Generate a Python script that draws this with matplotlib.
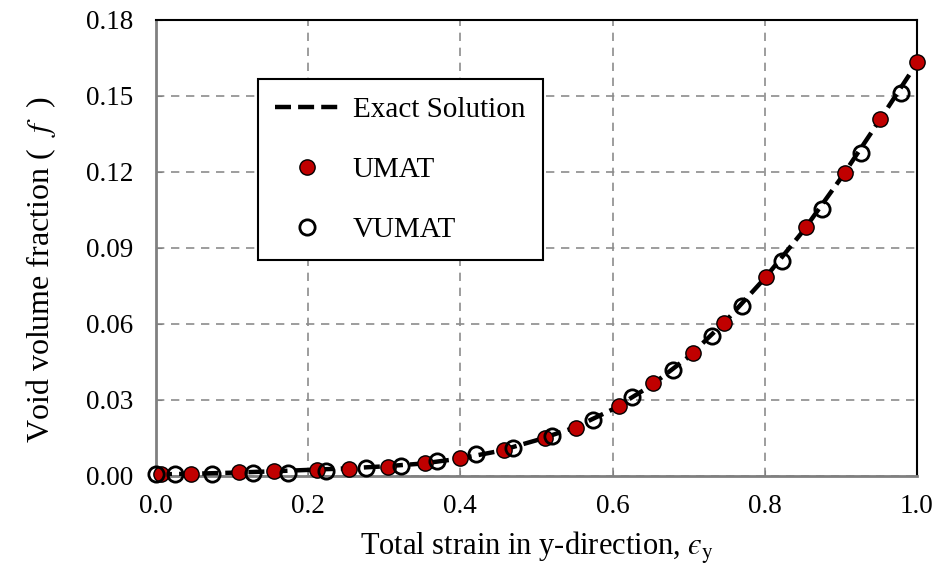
import matplotlib
matplotlib.use("Agg")
import matplotlib.pyplot as plt

plt.rcParams['font.family'] = ['Liberation Serif', 'DejaVu Serif']
plt.rcParams['mathtext.fontset'] = 'stix'

# exact solution curve
exact_x = [0.0, 0.05, 0.1, 0.15, 0.2, 0.25, 0.3, 0.35, 0.4, 0.45, 0.5,
           0.55, 0.6, 0.65, 0.7, 0.75, 0.8, 0.85, 0.9, 0.95, 1.0]
exact_y = [0.0005, 0.0008, 0.0012, 0.0017, 0.0023, 0.0029, 0.0037, 0.0048, 0.0068, 0.0097, 0.0140,
           0.0190, 0.0262, 0.0355, 0.0470, 0.0615, 0.0780, 0.0965, 0.1175, 0.1400, 0.1630]

# UMAT results
umat_x = [0.007, 0.046, 0.109, 0.155, 0.211, 0.253, 0.305, 0.354, 0.400, 0.457, 0.511,
          0.552, 0.608, 0.653, 0.706, 0.747, 0.802, 0.854, 0.905, 0.952, 1.0]
umat_y = [0.0007, 0.0008, 0.0013, 0.0017, 0.0023, 0.0026, 0.0033, 0.0049, 0.0069, 0.0101, 0.0148,
          0.0190, 0.0275, 0.0365, 0.0486, 0.0604, 0.0786, 0.0983, 0.1194, 0.1408, 0.1633]

# VUMAT results
vumat_x = [0.0, 0.025, 0.073, 0.127, 0.173, 0.223, 0.276, 0.322, 0.369, 0.420, 0.469,
           0.520, 0.574, 0.626, 0.679, 0.730, 0.770, 0.823, 0.875, 0.927, 0.979]
vumat_y = [0.0006, 0.0006, 0.0006, 0.0010, 0.0012, 0.0020, 0.0029, 0.0038, 0.0058, 0.0086, 0.0108,
           0.0157, 0.0220, 0.0310, 0.0417, 0.0552, 0.0670, 0.0849, 0.1052, 0.1273, 0.1510]

fig = plt.figure(figsize=(9.43, 5.81), dpi=100)
ax = fig.add_axes([0.1654, 0.1812, 0.8070, 0.7844])

ax.plot(exact_x, exact_y, color='black', lw=3.2, dashes=(3.6, 1.6), label='Exact Solution', zorder=3)
ax.plot(umat_x, umat_y, ls='none', marker='o', ms=11, mfc='#C00000', mec='black', mew=1.0,
        label='UMAT', zorder=4, clip_on=False)
ax.plot(vumat_x, vumat_y, ls='none', marker='o', ms=11, mfc='none', mec='black', mew=2.0,
        label='VUMAT', zorder=5, clip_on=False)

ax.set_xlim(0, 1.0)
ax.set_ylim(0, 0.18)
ax.set_xticks([0.0, 0.2, 0.4, 0.6, 0.8, 1.0])
ax.set_yticks([0.0, 0.03, 0.06, 0.09, 0.12, 0.15, 0.18])
ax.set_xticklabels(['0.0', '0.2', '0.4', '0.6', '0.8', '1.0'])
ax.set_yticklabels(['0.00', '0.03', '0.06', '0.09', '0.12', '0.15', '0.18'])
ax.tick_params(direction='in', length=4, color='#808080', labelsize=19.5)
ax.tick_params(axis='x', pad=13)
ax.tick_params(axis='y', pad=16)

ax.grid(True, color='#8c8c8c', ls=(0, (5, 4)), lw=1.2)
ax.set_axisbelow(True)
ax.spines['left'].set_color('#808080')
ax.spines['bottom'].set_color('#808080')
for s in ['left', 'bottom']:
    ax.spines[s].set_linewidth(2)
for s in ['top', 'right']:
    ax.spines[s].set_color('black')
    ax.spines[s].set_linewidth(1.5)

ax.set_xlabel('Total strain in y-direction, $\u03f5_\\mathrm{y}$', fontsize=22, labelpad=8)
ax.set_ylabel(r'Void volume fraction (  $f$  )', fontsize=23)
ax.yaxis.set_label_coords(-0.129, 0.451)

leg = ax.legend(loc='upper left', bbox_to_anchor=(0.134, 0.8705), fontsize=21, frameon=True,
                fancybox=False, edgecolor='black', framealpha=1, borderpad=0.6,
                labelspacing=1.15, handlelength=2.15, handletextpad=0.5, borderaxespad=0)
leg.get_frame().set_linewidth(1.5)

fig.savefig('out.png', dpi=100)
